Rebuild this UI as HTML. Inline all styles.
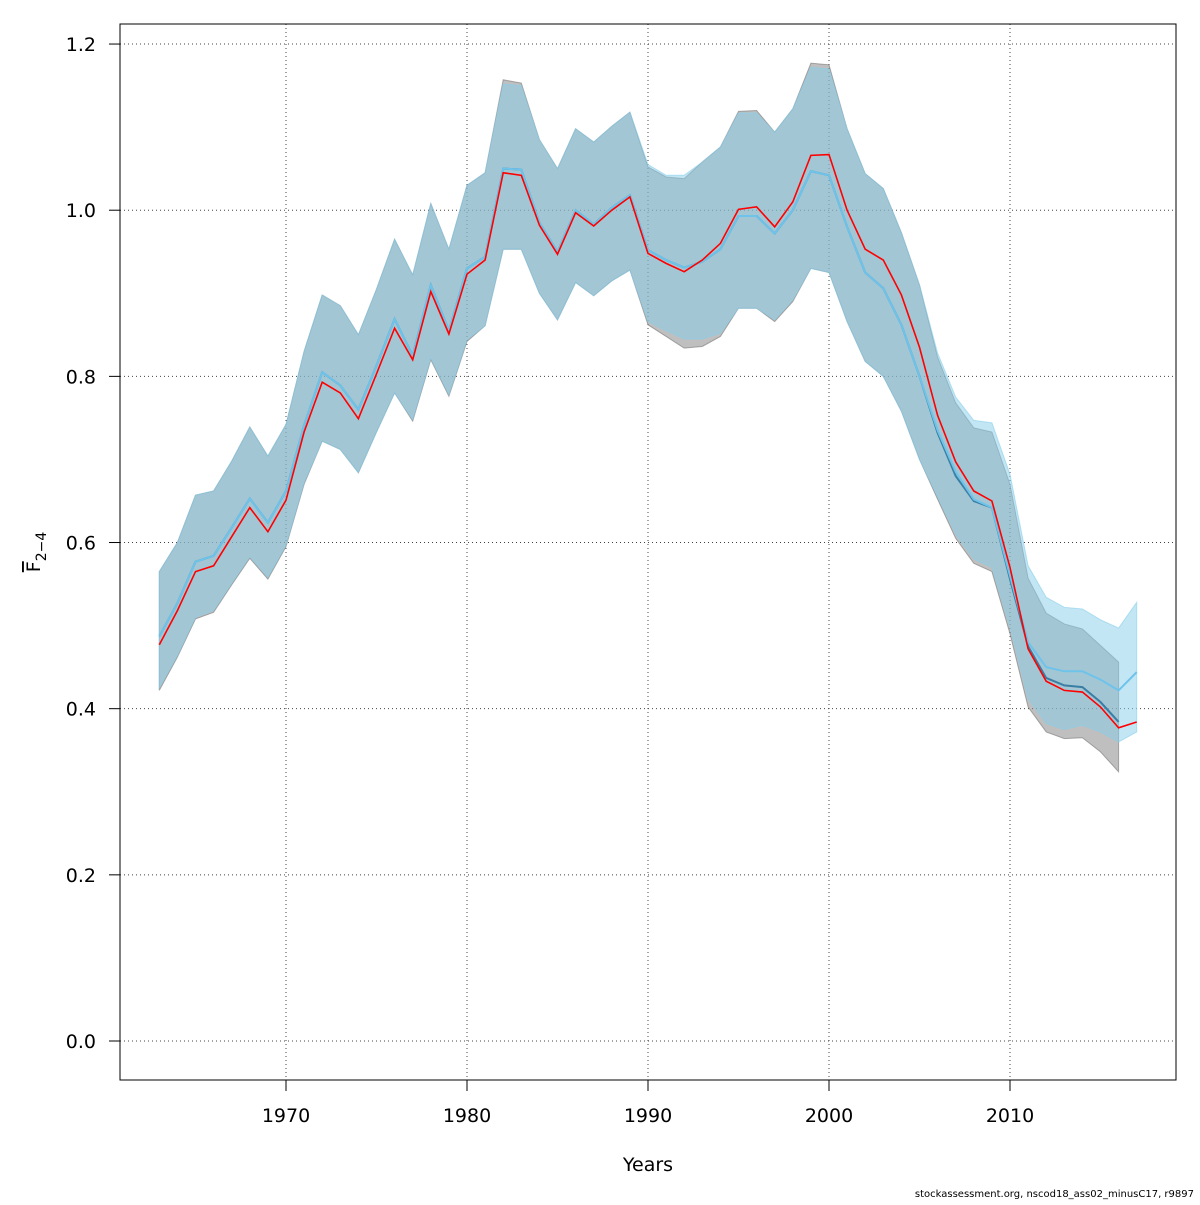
<!DOCTYPE html>
<html><head><meta charset="utf-8"><style>
body{margin:0;background:#fff;}
svg text{font-family:"DejaVu Sans","Liberation Sans",sans-serif;}
</style></head><body>
<svg id="chart" width="1200" height="1200" xmlns="http://www.w3.org/2000/svg">
<rect width="1200" height="1200" fill="#fff"/>
<g id="grid"></g>
<g id="bands"></g>
<g id="lines"></g>
<rect x="120" y="24" width="1056" height="1056" fill="none" stroke="#000" stroke-width="1"/>
<g id="axes"></g>
<text x="648" y="1171" font-size="19" text-anchor="middle">Years</text>
<text transform="translate(40,552) rotate(-90)" font-size="19" text-anchor="middle"><tspan text-decoration="overline">F</tspan><tspan font-size="14" dy="6">2−4</tspan></text>
<text x="1194" y="1197" font-size="10" text-anchor="end">stockassessment.org, nscod18_ass02_minusC17, r9897</text>
</svg>
<script>
const years = [];
for (let y = 1963; y <= 2017; y++) years.push(y);
const xTicks = [1970, 1980, 1990, 2000, 2010];
const yTicks = [0, 0.2, 0.4, 0.6, 0.8, 1.0, 1.2];
const yTickLabels = ["0.0","0.2","0.4","0.6","0.8","1.0","1.2"];
const redLine = [0.477,0.518,0.565,0.572,0.607,0.642,0.613,0.651,0.733,0.793,0.780,0.749,0.803,0.858,0.820,0.902,0.851,0.923,0.940,1.045,1.042,0.982,0.947,0.997,0.981,1.000,1.016,0.948,0.936,0.926,0.940,0.960,1.001,1.004,0.980,1.010,1.066,1.067,1.000,0.953,0.940,0.898,0.835,0.753,0.697,0.662,0.650,0.570,0.472,0.433,0.422,0.420,0.402,0.377,0.384];
const blueLine = [0.487,0.527,0.577,0.584,0.618,0.653,0.624,0.662,0.741,0.805,0.789,0.760,0.813,0.869,0.825,0.910,0.855,0.930,0.944,1.050,1.049,0.985,0.950,1.000,0.983,1.003,1.018,0.952,0.940,0.931,0.938,0.953,0.993,0.993,0.972,1.000,1.047,1.042,0.980,0.925,0.906,0.862,0.800,0.735,0.685,0.652,0.642,0.560,0.480,0.450,0.445,0.445,0.435,0.422,0.444];
const darkLine = [0.487,0.527,0.577,0.584,0.618,0.653,0.624,0.662,0.741,0.805,0.789,0.760,0.813,0.869,0.825,0.910,0.855,0.930,0.944,1.050,1.049,0.985,0.950,1.000,0.983,1.003,1.018,0.952,0.940,0.931,0.938,0.953,0.993,0.993,0.972,1.000,1.047,1.042,0.980,0.925,0.906,0.862,0.800,0.732,0.680,0.650,0.642,0.556,0.475,0.437,0.428,0.426,0.408,0.384];
const grayUpper = [0.565,0.600,0.657,0.662,0.698,0.739,0.704,0.742,0.830,0.898,0.885,0.850,0.905,0.965,0.922,1.008,0.953,1.030,1.045,1.157,1.153,1.085,1.050,1.098,1.082,1.101,1.118,1.052,1.040,1.038,1.058,1.076,1.119,1.120,1.094,1.122,1.177,1.175,1.098,1.044,1.026,0.973,0.910,0.823,0.768,0.738,0.733,0.670,0.557,0.515,0.502,0.496,0.476,0.456];
const grayLower = [0.422,0.462,0.508,0.516,0.549,0.581,0.556,0.595,0.670,0.722,0.712,0.684,0.733,0.780,0.746,0.820,0.776,0.842,0.861,0.953,0.953,0.900,0.868,0.913,0.897,0.915,0.928,0.862,0.848,0.834,0.836,0.848,0.882,0.882,0.866,0.890,0.930,0.925,0.866,0.818,0.800,0.758,0.700,0.652,0.605,0.575,0.565,0.490,0.402,0.372,0.364,0.365,0.348,0.324];
const blueUpper = [0.565,0.600,0.657,0.662,0.698,0.739,0.704,0.742,0.830,0.898,0.885,0.850,0.905,0.965,0.922,1.008,0.953,1.030,1.045,1.152,1.150,1.085,1.050,1.098,1.082,1.101,1.118,1.055,1.042,1.042,1.058,1.076,1.117,1.117,1.094,1.122,1.172,1.170,1.098,1.044,1.026,0.973,0.910,0.828,0.775,0.747,0.744,0.682,0.572,0.534,0.522,0.520,0.507,0.497,0.528];
const blueLower = [0.425,0.464,0.510,0.518,0.551,0.583,0.558,0.597,0.672,0.722,0.712,0.684,0.733,0.780,0.748,0.822,0.778,0.844,0.861,0.953,0.953,0.900,0.868,0.913,0.897,0.915,0.928,0.866,0.855,0.845,0.845,0.852,0.882,0.882,0.868,0.892,0.930,0.925,0.866,0.818,0.800,0.758,0.700,0.655,0.610,0.580,0.570,0.498,0.412,0.382,0.375,0.380,0.372,0.360,0.372];

const NS = "http://www.w3.org/2000/svg";
const X = y => 286 + (y - 1970) * 18.1;
const Y = v => 1041 - v * 830.8;
function mk(tag, attrs, parent){const e=document.createElementNS(NS,tag);for(const k in attrs)e.setAttribute(k,attrs[k]);parent.appendChild(e);return e;}
const grid=document.getElementById('grid'), axes=document.getElementById('axes'), bands=document.getElementById('bands'), lines=document.getElementById('lines');
xTicks.forEach(t=>{
  const g=mk('line',{x1:X(t),x2:X(t),y1:24,y2:1080,stroke:'#444','stroke-dasharray':'1,3'},grid);
  
  
  const tk=mk('line',{x1:X(t),x2:X(t),y1:1080,y2:1091,stroke:'#000'},axes);
  
  
  const tx=mk('text',{x:X(t),y:1122,'font-size':19,'text-anchor':'middle'},axes);
  tx.textContent=t;
  
  
});
yTicks.forEach((t,i)=>{
  const g=mk('line',{x1:120,x2:1176,y1:Y(t),y2:Y(t),stroke:'#444','stroke-dasharray':'1,3'},grid);
  
  
  const tk=mk('line',{x1:109,x2:120,y1:Y(t),y2:Y(t),stroke:'#000'},axes);
  
  
  const tx=mk('text',{x:96,y:Y(t)+7,'font-size':19,'text-anchor':'end'},axes);
  tx.textContent=yTickLabels[i];
  
  
});
function band(up,lo,fill,stroke,name){
  let p=up.map((v,i)=>X(years[i])+','+Y(v));
  for(let i=lo.length-1;i>=0;i--)p.push(X(years[i])+','+Y(lo[i]));
  const e=mk('polygon',{points:p.join(' '),fill:fill,stroke:stroke,'stroke-width':1},bands);
  
  
}
band(grayUpper,grayLower,'rgba(128,128,128,0.5)','rgba(100,100,100,0.5)','gray-confidence-band');
band(blueUpper,blueLower,'rgba(135,206,235,0.5)','rgba(135,206,235,0.6)','blue-confidence-band');
function line(vals,color,w,name){
  const e=mk('polyline',{points:vals.map((v,i)=>X(years[i])+','+Y(v)).join(' '),fill:'none',stroke:color,'stroke-width':w},lines);
  
  
}
line(darkLine,'#3a7ea3',2,'base-run-line');
line(blueLine,'#6ec3ea',2,'minus-c17-line');
line(redLine,'#ff0000',1.6,'red-estimate-line');
</script>
</body></html>
